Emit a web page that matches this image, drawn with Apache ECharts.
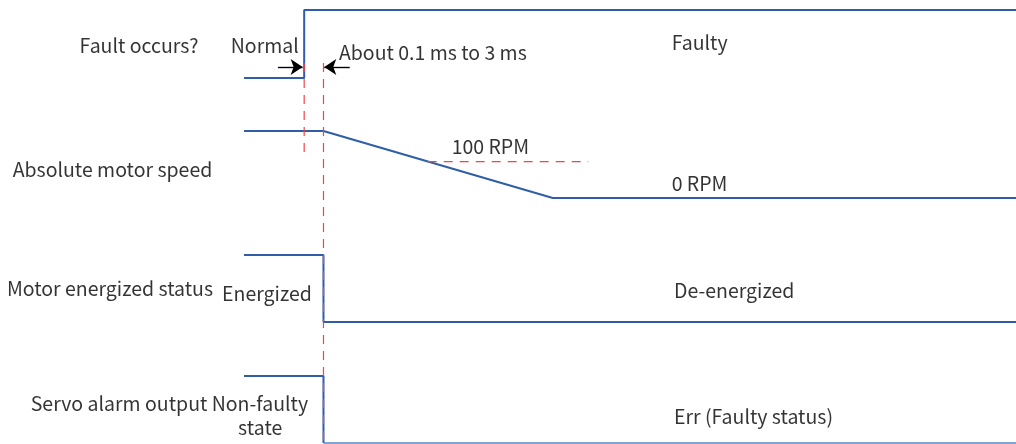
<!DOCTYPE html>
<html>
<head>
<meta charset="utf-8">
<script src="https://cdn.jsdelivr.net/npm/echarts@6/dist/echarts.min.js"></script>
<style>
  html, body { margin: 0; padding: 0; background: #fff; }
  #main { width: 1016px; height: 444px; }
</style>
</head>
<body>
<div id="main"></div>
<script>
// time in arbitrary units, 0 = start of the drawn traces
const faultTime = [0, 7.8, 7.8, 100];
const faultLevel = [0, 0, 1, 1];
const speedTime = [0, 10.3, 40, 100];
const speedRpm = [184, 184, 0, 0];
const energTime = [0, 10.3, 10.3, 100];
const energLevel = [1, 1, 0, 0];
const alarmTime = [0, 10.3, 10.3, 100];
const alarmLevel = [1, 1, 0, 0];
const rpmMarkValue = 100;
const rpmMarkTime = [23.8, 44.6];
const eventTimes = [7.8, 10.3];   // fault occurs, output reacts

const BLUE = '#2f5da8';
const RED = '#f0454a';
const FONT = '"Noto Sans CJK SC", "Noto Sans", sans-serif';

let zip = (xs, ys) => xs.map((x, i) => [x, ys[i]]);

let myChart = echarts.init(document.getElementById('main'));

let grids = [
    {left: 0, right: 0, top: 10, height: 68},
    {left: 0, right: 0, top: 125.2, height: 72.8},
    {left: 0, right: 0, top: 255, height: 67},
    {left: 0, right: 0, top: 376, height: 67},
    {left: 0, right: 0, top: 0, height: 444}   // annotation layer
];
let xAxes = grids.map((g, i) => ({type: 'value', gridIndex: i, min: -31.6, max: 100, show: false}));
let yAxes = [
    {type: 'value', gridIndex: 0, min: 0, max: 1, show: false},
    {type: 'value', gridIndex: 1, min: 0, max: 200, show: false},
    {type: 'value', gridIndex: 2, min: 0, max: 1, show: false},
    {type: 'value', gridIndex: 3, min: 0, max: 1, show: false},
    {type: 'value', gridIndex: 4, min: 0, max: 444, inverse: true, show: false}
];

function trace(idx, data, width, color) {
    return {
        type: 'line', xAxisIndex: idx, yAxisIndex: idx, data: data,
        symbol: 'none', clip: false, silent: true, z: 2,
        lineStyle: {color: color || BLUE, width: width || 2}
    };
}

let labels = [
    {t: -5.9, y: 46, text: 'Fault occurs?', align: 'right'},
    {t: 7.1, y: 46, text: 'Normal', align: 'right'},
    {t: 12.3, y: 53, text: 'About 0.1 ms to 3 ms', align: 'left'},
    {t: 55.4, y: 43, text: 'Faulty', align: 'left'},
    {t: -4.1, y: 170, text: 'Absolute motor speed', align: 'right'},
    {t: 26.9, y: 147, text: '100 RPM', align: 'left'},
    {t: 55.4, y: 184, text: '0 RPM', align: 'left'},
    {t: -4.0, y: 289, text: 'Motor energized status', align: 'right'},
    {t: 8.8, y: 294, text: 'Energized', align: 'right'},
    {t: 55.7, y: 291, text: 'De-energized', align: 'left'},
    {t: 8.3, y: 404, text: 'Servo alarm output Non-faulty', align: 'right'},
    {t: 2.1, y: 428, text: 'state', align: 'center'},
    {t: 55.7, y: 417, text: 'Err (Faulty status)', align: 'left'}
];

let redDash = {color: RED, width: 1.2, type: [9, 7]};

myChart.setOption({
    animation: false,
    grid: grids,
    xAxis: xAxes,
    yAxis: yAxes,
    series: [
        trace(0, zip(faultTime, faultLevel)),
        trace(1, zip(speedTime, speedRpm)),
        trace(2, zip(energTime, energLevel)),
        trace(3, zip(alarmTime.slice(0, 3), alarmLevel.slice(0, 3))),
        trace(3, zip(alarmTime.slice(2), alarmLevel.slice(2)), 1.5, '#5b83c9'),
        // 100 RPM reference
        {
            type: 'line', xAxisIndex: 1, yAxisIndex: 1, symbol: 'none', clip: false, z: 3,
            data: rpmMarkTime.map(t => [t, rpmMarkValue]),
            lineStyle: redDash
        },
        // event markers
        {
            type: 'line', xAxisIndex: 4, yAxisIndex: 4, symbol: 'none', clip: false, z: 5,
            data: [[eventTimes[0], 63], [eventTimes[0], 155]],
            lineStyle: redDash
        },
        {
            type: 'line', xAxisIndex: 4, yAxisIndex: 4, symbol: 'none', clip: false, z: 5,
            data: [[eventTimes[1], 63], [eventTimes[1], 442]],
            lineStyle: redDash
        },
        // arrows
        {
            type: 'lines', coordinateSystem: 'cartesian2d', xAxisIndex: 4, yAxisIndex: 4, z: 6,
            symbol: ['none', 'arrow'], symbolSize: [11, 12],
            lineStyle: {color: '#000', width: 1.4, opacity: 1},
            data: [
                {coords: [[4.4, 67], [eventTimes[0] - 0.2, 67]]},
                {coords: [[13.7, 67], [eventTimes[1] + 0.1, 67]]}
            ]
        },
        // text
        {
            type: 'scatter', xAxisIndex: 4, yAxisIndex: 4, symbolSize: 0, z: 7, silent: true,
            data: labels.map(l => ({
                value: [l.t, l.y],
                label: {
                    show: true, position: 'inside', formatter: l.text,
                    align: l.align, verticalAlign: 'middle',
                    fontFamily: FONT, fontSize: 19.5, color: '#000'
                }
            }))
        }
    ]
});
</script>
</body>
</html>
